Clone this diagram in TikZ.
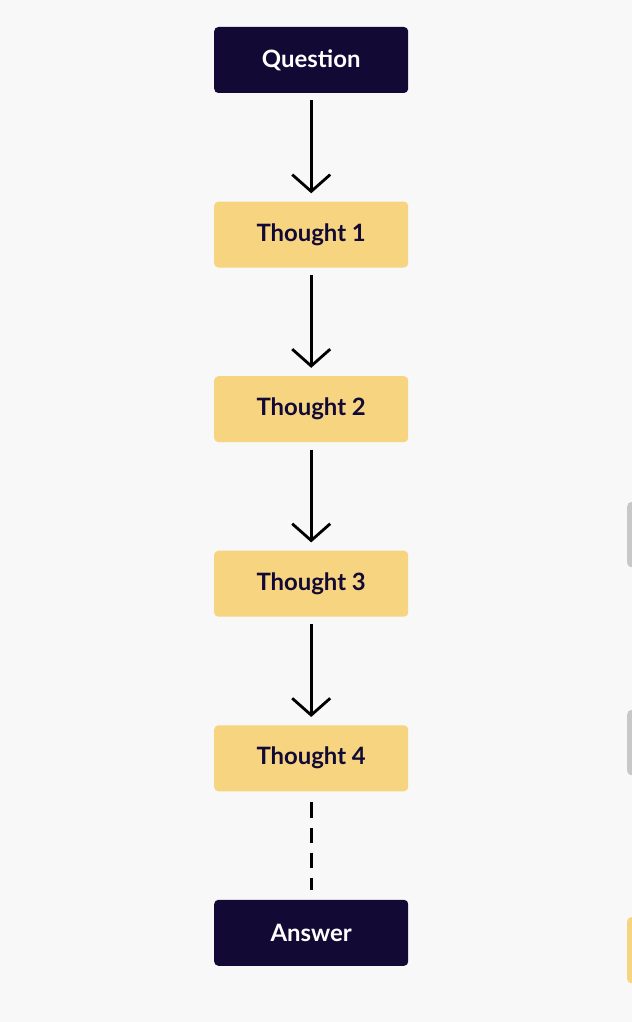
\documentclass[tikz,border=0pt]{standalone}
\usepackage{fontspec}
\setmainfont{Lato}
\usetikzlibrary{arrows.meta, positioning}
\definecolor{cotnavy}{RGB}{18, 10, 53}
\definecolor{cotyellow}{RGB}{246, 212, 128}
\definecolor{cotgray}{RGB}{200, 200, 200}
\definecolor{cotbg}{RGB}{248, 248, 248}

\begin{document}
\begin{tikzpicture}[node distance=2.7cm]
\tikzstyle{dark} = [rectangle, rounded corners=3pt, minimum width=4.85cm, minimum height=1.65cm, text centered, fill=cotnavy, text=white, font=\fontsize{17}{20}\selectfont\bfseries]
\tikzstyle{thought} = [dark, fill=cotyellow, text=cotnavy]
\tikzstyle{arrow} = [line width=2pt, -{Straight Barb[length=0.42cm, width=0.95cm, line width=2pt]}, shorten >=0.2cm, shorten <=0.18cm]

\fill[cotbg] (0,0) rectangle (15.8,-25.55);
\useasboundingbox (0,0) rectangle (15.8,-25.55);
\begin{scope}
\clip (0,0) rectangle (15.8,-25.55);
\fill[cotgray, rounded corners=3pt] (15.68,-12.55) rectangle (17,-14.18);
\fill[cotgray, rounded corners=3pt] (15.68,-17.75) rectangle (17,-19.38);
\fill[cotyellow, rounded corners=3pt] (15.68,-22.93) rectangle (17,-24.58);
\end{scope}

\node (question) [dark] at (7.78,-1.5) {Question};
\node (thought1) [thought, below=of question] {Thought 1};
\node (thought2) [thought, below=of thought1] {Thought 2};
\node (thought3) [thought, below=of thought2] {Thought 3};
\node (thought4) [thought, below=of thought3] {Thought 4};
\node (answer) [dark, below=of thought4] {Answer};

\draw [arrow] (question) -- (thought1);
\draw [arrow] (thought1) -- (thought2);
\draw [arrow] (thought2) -- (thought3);
\draw [arrow] (thought3) -- (thought4);
\draw [line width=2pt, dash pattern=on 0.38cm off 0.25cm, shorten >=0.25cm, shorten <=0.27cm] (thought4) -- (answer);
\end{tikzpicture}
\end{document}
